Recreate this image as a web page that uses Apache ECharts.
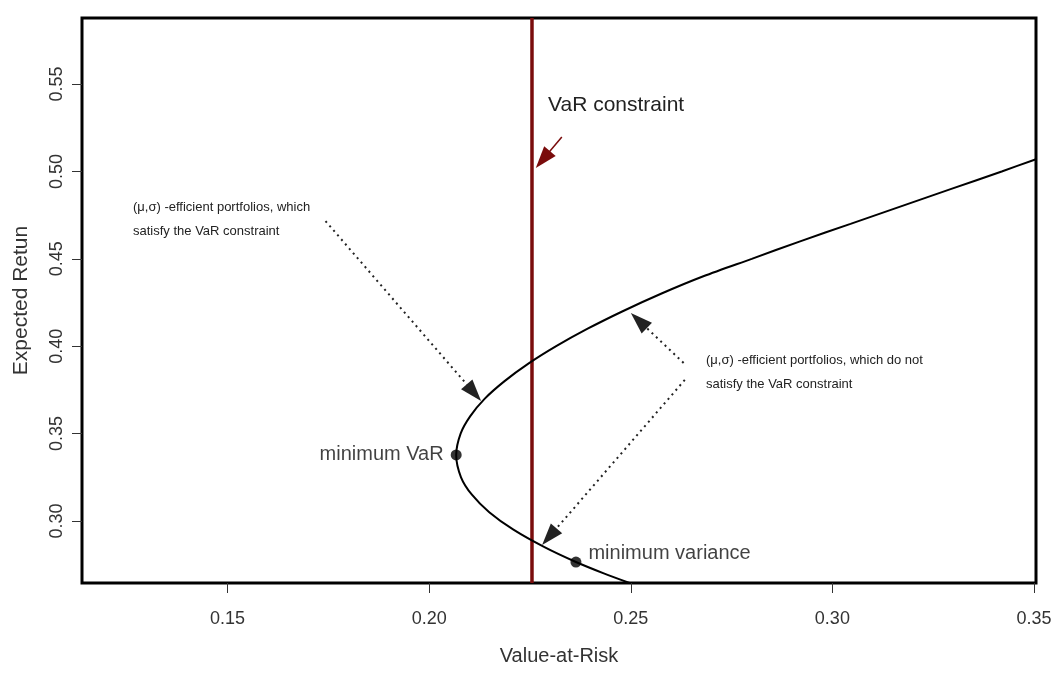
<!DOCTYPE html>
<html><head><meta charset="utf-8">
<script src="https://cdn.jsdelivr.net/npm/echarts@6/dist/echarts.min.js"></script>
<style>html,body{margin:0;padding:0;background:#fff}#c{width:1063px;height:674px}</style>
</head><body><div id="c"></div>
<script>
// Efficient frontier (Value-at-Risk, Expected Return)
const frontierVaR = [0.2497,0.2433,0.2364,0.2286,0.2209,0.2149,0.2106,0.2079,0.2067,0.2078,0.2102,0.2138,0.2187,0.2246,0.2315,0.2393,0.2480,0.2575,0.2680,0.2800,0.2920,0.3045,0.3170,0.3295,0.3420,0.3505];
const frontierReturn = [0.2645,0.27,0.2765,0.285,0.295,0.305,0.315,0.325,0.3377,0.35,0.36,0.37,0.38,0.39,0.40,0.41,0.42,0.43,0.44,0.45,0.46,0.47,0.48,0.49,0.50,0.507];
const constraintVaR = 0.2255;
const pointNames = ['minimum VaR','minimum variance'];
const pointVaR = [0.2067, 0.2364];
const pointReturn = [0.3378, 0.2765];
const xTicks = [0.15,0.20,0.25,0.30,0.35];
const yTicks = [0.30,0.35,0.40,0.45,0.50,0.55];
const xRange = [0.1139, 0.3505];
const yRange = [0.2645, 0.5878];
// annotation arrows: [fromVaR, fromReturn, toVaR, toReturn]
const arrowsDotted = [[0.1743,0.4716,0.2111,0.3734],[0.2631,0.3904,0.2520,0.4147],[0.2634,0.3807,0.2298,0.2910]];
const arrowConstraint = [0.2329,0.5197,0.2282,0.5068];

const FONT = '"Liberation Sans", Arial, sans-serif';
const chart = echarts.init(document.getElementById('c'), null, {renderer:'canvas'});
const frontier = frontierVaR.map((v,i)=>[v, frontierReturn[i]]);
const pts = pointVaR.map((v,i)=>({
  value:[v, pointReturn[i]],
  label:{show:true, formatter:pointNames[i], position: i===0?'left':'right', distance:7, offset: i===0?[0,0]:[0,-9],
    fontSize:20, fontFamily:FONT, color:'#111'}
}));
chart.setOption({
  animation:false,
  grid:{left:82, right:27, top:18, bottom:91, show:true, borderColor:'#000', borderWidth:3, backgroundColor:'transparent'},
  xAxis:{type:'value', min:xRange[0], max:xRange[1],
    name:'Value-at-Risk', nameLocation:'middle', nameGap:63,
    nameTextStyle:{fontSize:20, fontFamily:FONT, color:'#333'},
    axisLine:{show:false}, splitLine:{show:false},
    axisTick:{show:true, length:10, customValues:xTicks, lineStyle:{color:'#333', width:1}},
    axisLabel:{customValues:xTicks, formatter:v=>v.toFixed(2), margin:27, fontSize:18, fontFamily:FONT, color:'#333'}
  },
  yAxis:{type:'value', min:yRange[0], max:yRange[1],
    name:'Expected Retun', nameLocation:'middle', nameGap:50,
    nameTextStyle:{fontSize:21, fontFamily:FONT, color:'#333'},
    axisLine:{show:false}, splitLine:{show:false},
    axisTick:{show:true, length:10, customValues:yTicks, lineStyle:{color:'#333', width:1}},
    axisLabel:{customValues:yTicks, formatter:v=>v.toFixed(2), rotate:90, margin:16, fontSize:18, fontFamily:FONT, color:'#333'}
  },
  series:[
    {type:'line', data:[[constraintVaR, yRange[0]],[constraintVaR, yRange[1]]], showSymbol:false,
     lineStyle:{color:'#7a0c0c', width:3.5}, z:2},
    {type:'line', data:frontier, showSymbol:false, smooth:0.3, lineStyle:{color:'#000', width:2}, z:3},
    {type:'scatter', data:pts, symbolSize:11, itemStyle:{color:'#000'}, z:5},
    {type:'line', data:[], markLine:{silent:true, symbol:['none','triangle'], symbolSize:[15,22], label:{show:false},
       lineStyle:{color:'#222', width:2, type:[2,4]},
       data: arrowsDotted.map(a=>[{coord:[a[0],a[1]]},{coord:[a[2],a[3]]}])}},
    {type:'line', data:[], markLine:{silent:true, symbol:['none','triangle'], symbolSize:[15,22], label:{show:false},
       lineStyle:{color:'#7a0c0c', width:1.5, type:'solid'}, itemStyle:{color:'#7a0c0c'},
       data:[[{coord:[arrowConstraint[0],arrowConstraint[1]]},{coord:[arrowConstraint[2],arrowConstraint[3]]}]]}}
  ],
  graphic:[
    {type:'text', left:548, top:95, style:{text:'VaR constraint', fontSize:21, fontFamily:FONT, fill:'#222'}},
    {type:'text', left:133, top:201, style:{text:'(\u03bc,\u03c3) -efficient portfolios, which\n\nsatisfy the VaR constraint', fontSize:13, lineHeight:12, fontFamily:FONT, fill:'#222'}},
    {type:'text', left:706, top:354, style:{text:'(\u03bc,\u03c3) -efficient portfolios, which do not\n\nsatisfy the VaR constraint', fontSize:13, lineHeight:12, fontFamily:FONT, fill:'#222'}}
  ]
});
</script></body></html>
